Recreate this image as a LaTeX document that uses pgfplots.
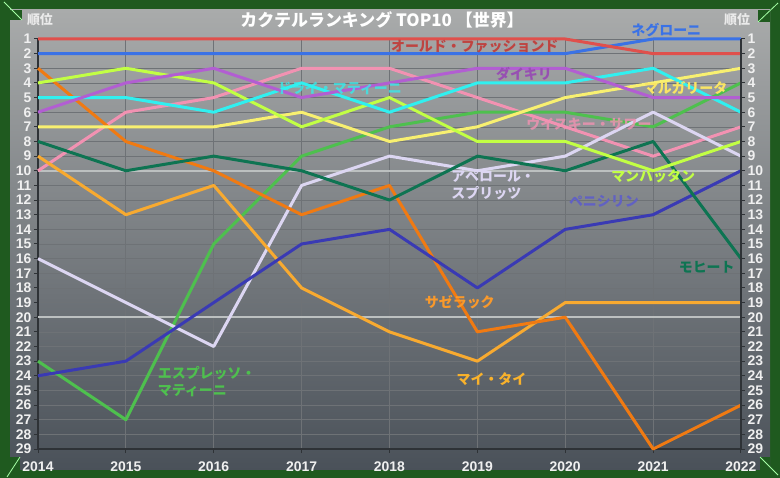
\documentclass[border=0pt]{standalone}
\usepackage{fontspec}
\setmainfont{Noto Sans CJK JP}
\newfontfamily\arial{Liberation Sans}
\usepackage{pgfplots}
\pgfplotsset{compat=1.18}
\definecolor{framegreen}{HTML}{1F5A1F}
\definecolor{bgtop}{HTML}{A9ABAB}
\definecolor{bgbot}{HTML}{4A5159}
\definecolor{gridc}{HTML}{6E7276}
\definecolor{axisdark}{HTML}{2E3236}
\definecolor{hl}{HTML}{BCC0C0}
\definecolor{cRed}{HTML}{E0504C}
\definecolor{cBlue}{HTML}{3A72E6}
\definecolor{cPurple}{HTML}{B25ED2}
\definecolor{cCyan}{HTML}{30F0F0}
\definecolor{cPink}{HTML}{F292B2}
\definecolor{cLime}{HTML}{C2FF44}
\definecolor{cYellow}{HTML}{F8F070}
\definecolor{cGreen}{HTML}{4EC04E}
\definecolor{cTeal}{HTML}{0E7452}
\definecolor{cOrange}{HTML}{F07A12}
\definecolor{cAmber}{HTML}{F8AA30}
\definecolor{cLav}{HTML}{DCD6F2}
\definecolor{cIndigo}{HTML}{3A3AB4}
\begin{document}
\begin{tikzpicture}[x=1bp,y=1bp]
\fill[framegreen] (0,0) rectangle (780,478);
\shade[top color=bgtop, bottom color=bgbot] (10,8) rectangle (770,468);
\fill[framegreen] (10,468) -- (22,468) -- (22,458) -- (10,458) -- cycle;
\fill[framegreen] (758,468) -- (770,468) -- (770,456) -- (758,456) -- cycle;
\fill[framegreen] (10,8) -- (20,8) -- (20,21) -- (10,21) -- cycle;
\fill[framegreen] (760,8) -- (770,8) -- (770,21) -- (760,21) -- cycle;
\draw[white!65!green, line width=0.8bp] (4,476) -- (22,458);
\draw[white!65!green, line width=0.8bp] (758,456) -- (778,475);
\draw[white!65!green, line width=0.8bp] (7,1) -- (20,21);
\draw[white!65!green, line width=0.8bp] (760,21) -- (778,3);
\node[text=white, font=\bfseries\fontsize{17}{20}\selectfont] at (382,458) {カクテルランキング TOP10 【世界】};
\node[text=white!92!black, font=\bfseries\fontsize{13}{15}\selectfont] at (40,458) {順位};
\node[text=white!92!black, font=\bfseries\fontsize{13}{15}\selectfont] at (737,458) {順位};
\begin{axis}[at={(38bp,29bp)}, anchor=south west, width=703bp, height=410bp, scale only axis,
  xmin=2014, xmax=2022, ymin=1, ymax=29, y dir=reverse, clip=false,
  xtick={2014,...,2022}, ytick={1,...,29},
  axis x line*=bottom, axis y line*=left, axis line style={-, draw=axisdark, line width=1.3bp},
  tick align=outside, major tick length=4bp, tick style={draw=axisdark, line width=1bp},
  grid=major, major grid style={draw=gridc, line width=0.7bp},
  /pgf/number format/assume math mode=true,
  xticklabel style={/pgf/number format/1000 sep={}, font=\arial\bfseries\fontsize{14}{16}\selectfont, text=white!94!black, yshift=-5bp},
  yticklabel style={font=\arial\bfseries\fontsize{14}{15}\selectfont, text=white!94!black, xshift=1bp},
  every axis plot/.append style={line width=3bp, line join=round, mark=none},
]
\draw[hl, line width=1.6bp] (axis cs:2014,10) -- (axis cs:2022,10);
\draw[hl, line width=1.6bp] (axis cs:2014,20) -- (axis cs:2022,20);
% Whiskey sour
\addplot[cPink] coordinates {(2014,10)(2015,6)(2016,5)(2017,3)(2018,3)(2019,5)(2020,7)(2021,9)(2022,7)};
% Espresso martini
\addplot[cGreen] coordinates {(2014,23)(2015,27)(2016,15)(2017,9)(2018,7)(2019,6)(2020,6)(2021,7)(2022,4)};
% Aperol spritz
\addplot[cLav] coordinates {(2014,16)(2015,19)(2016,22)(2017,11)(2018,9)(2019,10)(2020,9)(2021,6)(2022,9)};
% Mai Tai
\addplot[cAmber] coordinates {(2014,9)(2015,13)(2016,11)(2017,18)(2018,21)(2019,23)(2020,19)(2021,19)(2022,19)};
% Sazerac
\addplot[cOrange] coordinates {(2014,3)(2015,8)(2016,10)(2017,13)(2018,11)(2019,21)(2020,20)(2021,29)(2022,26)};
% Penicillin
\addplot[cIndigo] coordinates {(2014,24)(2015,23)(2016,19)(2017,15)(2018,14)(2019,18)(2020,14)(2021,13)(2022,10)};
% Mojito
\addplot[cTeal] coordinates {(2014,8)(2015,10)(2016,9)(2017,10)(2018,12)(2019,9)(2020,10)(2021,8)(2022,16)};
% Margarita
\addplot[cYellow] coordinates {(2014,7)(2015,7)(2016,7)(2017,6)(2018,8)(2019,7)(2020,5)(2021,4)(2022,3)};
% Manhattan
\addplot[cLime] coordinates {(2014,4)(2015,3)(2016,4)(2017,7)(2018,5)(2019,8)(2020,8)(2021,10)(2022,8)};
% Dry Martini
\addplot[cCyan] coordinates {(2014,5)(2015,5)(2016,6)(2017,4)(2018,6)(2019,4)(2020,4)(2021,3)(2022,6)};
% Daiquiri
\addplot[cPurple] coordinates {(2014,6)(2015,4)(2016,3)(2017,5)(2018,4)(2019,3)(2020,3)(2021,5)(2022,5)};
% Negroni
\addplot[cBlue] coordinates {(2014,2)(2015,2)(2016,2)(2017,2)(2018,2)(2019,2)(2020,2)(2021,1)(2022,1)};
% Old Fashioned
\addplot[cRed] coordinates {(2014,1)(2015,1)(2016,1)(2017,1)(2018,1)(2019,1)(2020,1)(2021,2)(2022,2)};
\tikzset{lab/.style={font=\bfseries\fontsize{14}{17}\selectfont, inner sep=0pt}}
\node[lab, text=cRed!85!black] at (axis cs:2018.97,1.5) {オールド・ファッションド};
\node[lab, text=cBlue] at (axis cs:2021.15,0.4) {ネグローニ};
\node[lab, text=cPurple!85!black] at (axis cs:2019.53,3.4) {ダイキリ};
\node[lab, text=cCyan, opacity=0.75] at (axis cs:2017.43,4.35) {ドライ・マティーニ};
\node[lab, text=cYellow!90!orange] at (axis cs:2021.37,4.35) {マルガリータ};
\node[lab, text=cPink, opacity=0.8] at (axis cs:2020.27,6.85) {ウイスキー・サワー};
\node[lab, text=cLime] at (axis cs:2021.0,10.4) {マンハッタン};
\node[lab, text=cLav, align=left] at (axis cs:2019.18,11.0) {アペロール・\\スプリッツ};
\node[lab, text=cIndigo!80!white] at (axis cs:2020.44,12.1) {ペニシリン};
\node[lab, text=cTeal] at (axis cs:2021.61,16.6) {モヒート};
\node[lab, text=cAmber!90!red] at (axis cs:2018.8,19.0) {サゼラック};
\node[lab, text=cAmber!90!yellow] at (axis cs:2019.16,24.2) {マイ・タイ};
\node[lab, text=cGreen, align=left] at (axis cs:2015.92,24.4) {エスプレッソ・\\マティーニ};
\end{axis}
\begin{axis}[at={(38bp,29bp)}, anchor=south west, width=703bp, height=410bp, scale only axis,
  xmin=2014, xmax=2022, ymin=1, ymax=29, y dir=reverse,
  ytick={1,...,29}, hide x axis,
  axis y line*=right, axis line style={-, draw=axisdark, line width=1.3bp},
  tick align=outside, major tick length=4bp, tick style={draw=axisdark, line width=1bp},
  /pgf/number format/assume math mode=true,
  yticklabel style={font=\arial\bfseries\fontsize{14}{15}\selectfont, text=white!94!black, xshift=-1bp},
]
\end{axis}
\end{tikzpicture}
\end{document}
